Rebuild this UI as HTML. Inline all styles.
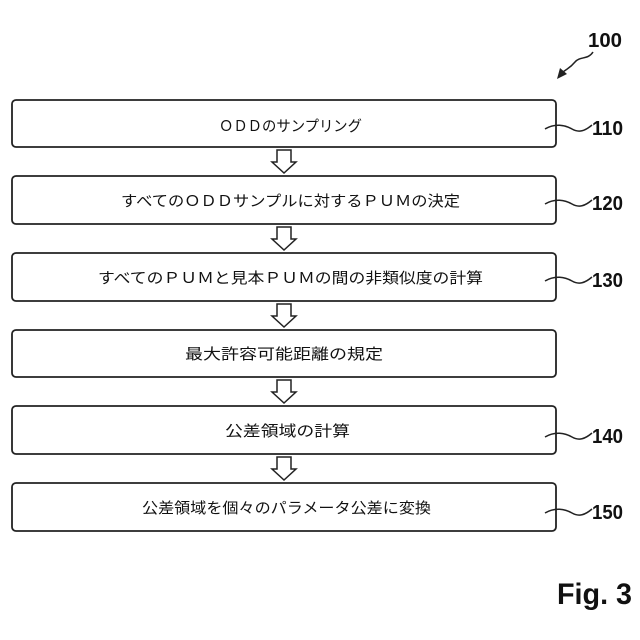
<!DOCTYPE html>
<html><head><meta charset="utf-8"><style>
html,body{margin:0;padding:0;background:#fff;}
svg{display:block;}
.t{font-family:"Liberation Sans","Noto Sans CJK JP",sans-serif;font-size:15px;fill:#111;}
.n{font-family:"Liberation Sans",sans-serif;font-weight:bold;font-size:20px;fill:#111;}
</style></head><body>
<svg width="640" height="640" viewBox="0 0 640 640" xmlns="http://www.w3.org/2000/svg">
<g fill="#fff" stroke="#222" stroke-width="1.8">
<rect x="12" y="100" width="544" height="47" rx="4"/>
<rect x="12" y="176" width="544" height="48" rx="4"/>
<rect x="12" y="253" width="544" height="48" rx="4"/>
<rect x="12" y="330" width="544" height="47" rx="4"/>
<rect x="12" y="406" width="544" height="48" rx="4"/>
<rect x="12" y="483" width="544" height="48" rx="4"/>
</g>
<g fill="#fff" stroke="#222" stroke-width="1.5">
<path d="M277 150 V162 H272 L284 173 L296 162 H291 V150 Z"/>
<path d="M277 227 V239 H272 L284 250 L296 239 H291 V227 Z"/>
<path d="M277 304 V316 H272 L284 327 L296 316 H291 V304 Z"/>
<path d="M277 380 V392 H272 L284 403 L296 392 H291 V380 Z"/>
<path d="M277 457 V469 H272 L284 480 L296 469 H291 V457 Z"/>
</g>
<g class="t">
<text x="219" y="131" textLength="143" lengthAdjust="spacingAndGlyphs">ＯＤＤのサンプリング</text>
<text x="121" y="206" textLength="339" lengthAdjust="spacingAndGlyphs">すべてのＯＤＤサンプルに対するＰＵＭの決定</text>
<text x="98" y="283" textLength="385" lengthAdjust="spacingAndGlyphs">すべてのＰＵＭと見本ＰＵＭの間の非類似度の計算</text>
<text x="185" y="359" textLength="198" lengthAdjust="spacingAndGlyphs">最大許容可能距離の規定</text>
<text x="225" y="436" textLength="125" lengthAdjust="spacingAndGlyphs">公差領域の計算</text>
<text x="142" y="513" textLength="289" lengthAdjust="spacingAndGlyphs">公差領域を個々のパラメータ公差に変換</text>
</g>
<g fill="none" stroke="#222" stroke-width="1.5">
<path d="M545 129 C555 123,565 125,572 129 S585 131,592 125"/>
<path d="M545 204 C555 198,565 200,572 204 S585 206,592 200"/>
<path d="M545 281 C555 275,565 277,572 281 S585 283,592 277"/>
<path d="M545 437 C555 431,565 433,572 437 S585 439,592 433"/>
<path d="M545 513 C555 507,565 509,572 513 S585 515,592 509"/>
<path d="M593 52 C588 60,580 56,575 62 S568 68,563 72"/>
</g>
<path d="M557 79 L560 68 L567 74 Z" fill="#222"/>
<g class="n">
<text x="588" y="47" textLength="34" lengthAdjust="spacingAndGlyphs">100</text>
<text x="592" y="135" textLength="31" lengthAdjust="spacingAndGlyphs">110</text>
<text x="592" y="210" textLength="31" lengthAdjust="spacingAndGlyphs">120</text>
<text x="592" y="287" textLength="31" lengthAdjust="spacingAndGlyphs">130</text>
<text x="592" y="443" textLength="31" lengthAdjust="spacingAndGlyphs">140</text>
<text x="592" y="519" textLength="31" lengthAdjust="spacingAndGlyphs">150</text>
<text x="557" y="604" style="font-size:30px" textLength="75" lengthAdjust="spacingAndGlyphs">Fig. 3</text>
</g>
</svg>
</body></html>
